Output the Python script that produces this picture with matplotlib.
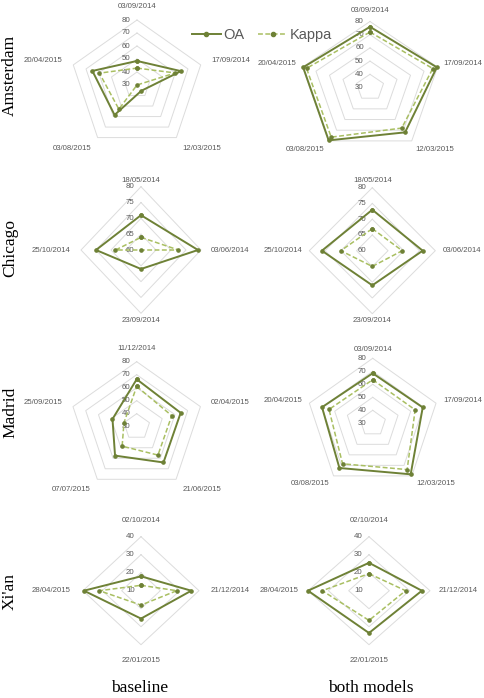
import numpy as np
import matplotlib
matplotlib.use('Agg')
import matplotlib.pyplot as plt

# 日付ラベル (各都市)
ams_dates = ['03/09/2014', '17/09/2014', '12/03/2015', '03/08/2015', '20/04/2015']
chi_dates = ['18/05/2014', '03/06/2014', '23/09/2014', '25/10/2014']
mad_base_dates = ['11/12/2014', '02/04/2015', '21/06/2015', '07/07/2015', '25/09/2015']
mad_both_dates = ['03/09/2014', '17/09/2014', '12/03/2015', '03/08/2015', '20/04/2015']
xia_dates = ['02/10/2014', '21/12/2014', '22/01/2015', '28/04/2015']

# OA / Kappa の値
ams_base_oa = [48.5, 64.5, 35.5, 58.5, 65]
ams_base_kappa = [43, 60, 30, 53, 59.5]
ams_both_oa = [76, 79.5, 72, 79.5, 79.5]
ams_both_kappa = [72, 76.5, 68, 76.5, 77]

chi_base_oa = [71, 79, 66, 75]
chi_base_kappa = [64, 72.5, 60, 68.5]
chi_both_oa = [73, 76, 71, 76]
chi_both_kappa = [67, 69.5, 65, 70]

mad_base_oa = [66.5, 64.5, 64, 57.5, 49]
mad_base_kappa = [61, 57.5, 57, 48.5, 40]
mad_both_oa = [68.5, 69.5, 78.5, 72.5, 70]
mad_both_kappa = [63.5, 63.5, 74, 68.5, 64.5]

xia_base_oa = [18, 36, 25.5, 39.5]
xia_base_kappa = [13, 28.5, 18, 31.5]
xia_both_oa = [25.5, 36, 33.5, 40]
xia_both_kappa = [19.5, 28, 26.5, 33]

# 軸の目盛り
ams_ticks = [30, 40, 50, 60, 70, 80]
chi_ticks = [60, 65, 70, 75, 80]
mad_ticks = [30, 40, 50, 60, 70, 80]
xia_ticks = [10, 20, 30, 40]

row_names = ['Amsterdam', 'Chicago', 'Madrid', "Xi'an"]
col_names = ['baseline', 'both models']

W, H = 485, 698
OA_COLOR = '#6E8136'
KAPPA_COLOR = '#A9BF62'
GRID_COLOR = '#DCDCDC'
TEXT_COLOR = '#595959'

fig = plt.figure(figsize=(W / 100, H / 100), dpi=100)


def radar(cx, cy, rx, ry, dates, oa, kappa, ticks, label_r):
    '''ピクセル座標の中心と半径からレーダーチャートを描く'''
    ax = fig.add_axes([(cx - rx) / W, 1 - (cy + ry) / H, 2 * rx / W, 2 * ry / H],
                      projection='polar')
    ax.set_aspect('auto')
    ax.set_theta_offset(np.pi / 2)
    ax.set_theta_direction(-1)
    ax.set_ylim(ticks[0], ticks[-1])
    ax.grid(False)
    ax.set_xticks([])
    ax.set_yticks([])
    ax.spines['polar'].set_visible(False)

    n = len(dates)
    th = np.linspace(0, 2 * np.pi, n, endpoint=False)
    thc = np.append(th, th[0])

    for t in ticks[1:]:
        ax.plot(thc, [t] * (n + 1), color=GRID_COLOR, lw=0.7, clip_on=False, zorder=1)

    for t in ticks:
        ax.annotate(str(t), xy=(0, t), xytext=(-4.5, 0), textcoords='offset points',
                    ha='right', va='center', fontsize=5.7, color=TEXT_COLOR,
                    family='Liberation Sans', zorder=2)

    for a, d in zip(th, dates):
        s, c = np.sin(a), np.cos(a)
        ha = 'center'
        if s > 0.1:
            ha = 'left'
        elif s < -0.1:
            ha = 'right'
        ax.annotate(d, xy=(0, ticks[0]),
                    xytext=(label_r * s * 0.72, label_r * c * 0.72),
                    textcoords='offset points', ha=ha, va='center',
                    fontsize=5.6, color=TEXT_COLOR, family='Liberation Sans',
                    annotation_clip=False)

    ax.plot(thc, list(oa) + [oa[0]], color=OA_COLOR, lw=1.4, marker='o', ms=2.3,
            clip_on=False, zorder=4, label='OA')
    ax.plot(thc, list(kappa) + [kappa[0]], color=KAPPA_COLOR, lw=1.1,
            dashes=(3.2, 1.6), marker='o', ms=2.3, mfc=OA_COLOR, mec=OA_COLOR,
            clip_on=False, zorder=3, label='Kappa')
    return ax


ax0 = radar(137, 85, 67, 65, ams_dates, ams_base_oa, ams_base_kappa, ams_ticks, 78)
radar(370, 87.5, 71, 66, ams_dates, ams_both_oa, ams_both_kappa, ams_ticks, 77)
radar(141, 250, 60, 63.3, chi_dates, chi_base_oa, chi_base_kappa, chi_ticks, 70)
radar(372.3, 250.7, 63, 63, chi_dates, chi_both_oa, chi_both_kappa, chi_ticks, 70)
radar(136.7, 426.7, 67, 65, mad_base_dates, mad_base_oa, mad_base_kappa, mad_ticks, 78)
radar(372.7, 423.3, 66.6, 65, mad_both_dates, mad_both_oa, mad_both_kappa, mad_ticks, 74)
radar(141, 590.7, 58, 54, xia_dates, xia_base_oa, xia_base_kappa, xia_ticks, 70)
radar(369, 590.7, 61, 54, xia_dates, xia_both_oa, xia_both_kappa, xia_ticks, 70)

# 凡例
h, l = ax0.get_legend_handles_labels()
fig.legend(h, l, loc='center', bbox_to_anchor=(262 / W, 1 - 35 / H), ncol=2,
           frameon=False, prop={'family': 'Liberation Sans', 'size': 10.5},
           labelcolor=TEXT_COLOR, handlelength=2.0, handletextpad=0.2,
           columnspacing=0.9, numpoints=1, markerscale=1.3)

# 行・列ラベル
for name, y in zip(row_names, [75.5, 248, 412, 592]):
    fig.text(10 / W, 1 - y / H, name, rotation=90, ha='center', va='center',
             fontsize=12.5, family='Liberation Serif')
for name, x in zip(col_names, [139.5, 370.5]):
    fig.text(x / W, 1 - 688 / H, name, ha='center', va='center',
             fontsize=12.5, family='Liberation Serif')

fig.savefig('out.png', dpi=100)
